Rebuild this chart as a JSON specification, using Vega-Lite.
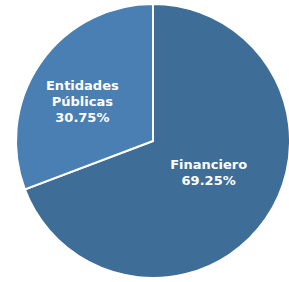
{
  "$schema": "https://vega.github.io/schema/vega-lite/v6.json",
  "width": 274,
  "height": 274,
  "autosize": "none",
  "padding": {"left": 16, "top": 4, "right": 0, "bottom": 0},
  "background": "white",
  "view": {"stroke": null},
  "data": {"values": [
    {"cat": "Financiero", "value": 69.25, "ord": 1, "label": ["Financiero", "69.25%"]},
    {"cat": "Entidades Públicas", "value": 30.75, "ord": 2, "label": ["Entidades", "Públicas", "30.75%"]}
  ]},
  "layer": [
    {
      "mark": {"type": "arc", "stroke": "white", "strokeWidth": 2},
      "encoding": {
        "theta": {"field": "value", "type": "quantitative", "stack": true},
        "order": {"field": "ord", "type": "quantitative"},
        "color": {"field": "cat", "type": "nominal", "legend": null,
          "scale": {"domain": ["Financiero", "Entidades Públicas"], "range": ["#3e6d97", "#4a7fb3"]}}
      }
    },
    {
      "transform": [
        {"stack": "value", "groupby": [], "sort": [{"field": "ord"}], "as": ["v0", "v1"]},
        {"calculate": "(datum.v0 + datum.v1) / 2", "as": "mid"},
        {"filter": "datum.cat === 'Financiero'"}
      ],
      "mark": {"type": "text", "radius": 64, "dx": 3, "dy": -12, "font": "DejaVu Sans", "fontWeight": "bold", "fontSize": 13, "lineHeight": 16, "fill": "white", "align": "center", "baseline": "middle"},
      "encoding": {
        "theta": {"field": "mid", "type": "quantitative", "stack": false},
        "text": {"field": "label"}
      }
    },
    {
      "transform": [
        {"stack": "value", "groupby": [], "sort": [{"field": "ord"}], "as": ["v0", "v1"]},
        {"calculate": "(datum.v0 + datum.v1) / 2", "as": "mid"},
        {"filter": "datum.cat === 'Entidades Públicas'"}
      ],
      "mark": {"type": "text", "radius": 81, "dx": -4, "dy": -9, "font": "DejaVu Sans", "fontWeight": "bold", "fontSize": 13, "lineHeight": 16, "fill": "white", "align": "center", "baseline": "middle"},
      "encoding": {
        "theta": {"field": "mid", "type": "quantitative", "stack": false},
        "text": {"field": "label"}
      }
    }
  ],
  "resolve": {"scale": {"theta": "shared"}}
}
